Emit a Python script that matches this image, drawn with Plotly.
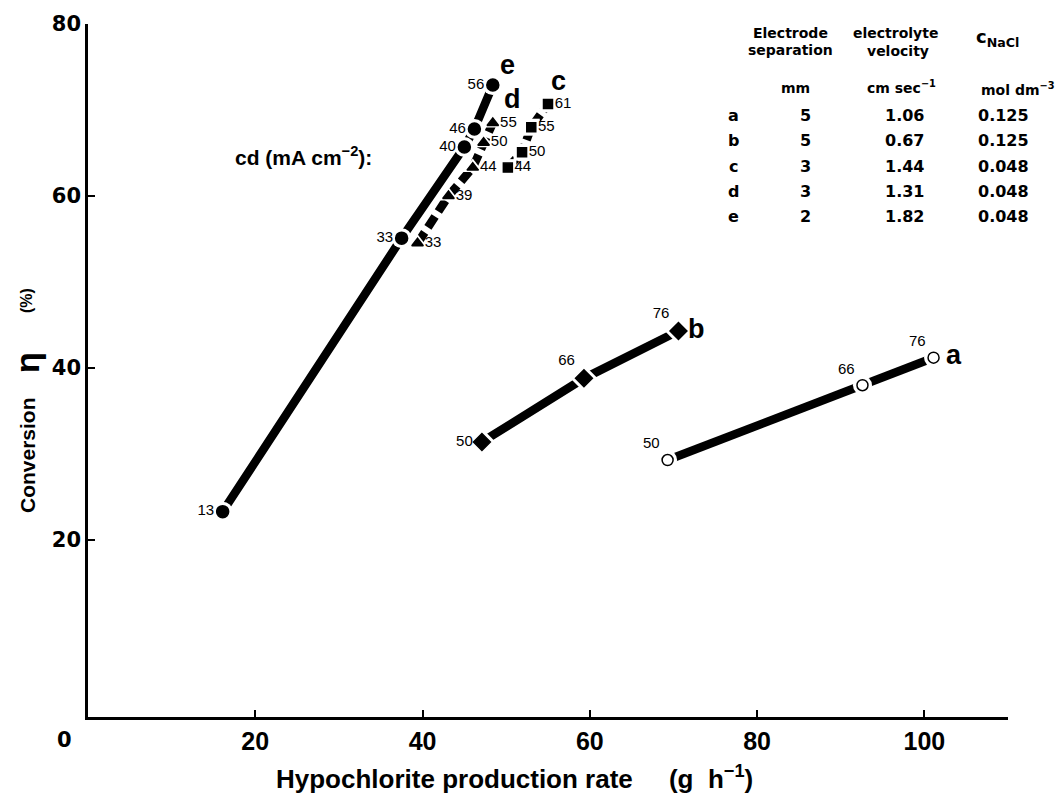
import plotly.graph_objects as go

# ---------------- data ----------------
a_x = [69.3, 92.6, 101.1]
a_y = [29.3, 38.0, 41.2]
a_cd = ["50", "66", "76"]

b_x = [47.1, 59.3, 70.6]
b_y = [31.4, 38.8, 44.3]
b_cd = ["50", "66", "76"]

c_x = [50.2, 51.9, 53.0, 55.0]
c_y = [63.3, 65.1, 68.0, 70.7]
c_cd = ["44", "50", "55", "61"]

d_x = [39.4, 43.1, 46.0, 47.3, 48.4]
d_y = [54.5, 60.0, 63.3, 66.2, 68.5]
d_cd = ["33", "39", "44", "50", "55"]

e_x = [16.1, 37.5, 45.0, 46.2, 48.4]
e_y = [23.3, 55.1, 65.7, 67.8, 72.9]
e_cd = ["13", "33", "40", "46", "56"]

table_ids = ["a", "b", "c", "d", "e"]
table_sep = ["5", "5", "3", "3", "2"]
table_vel = ["1.06", "0.67", "1.44", "1.31", "1.82"]
table_nacl = ["0.125", "0.125", "0.048", "0.048", "0.048"]

x_ticks = [20, 40, 60, 80, 100]
y_ticks = [20, 40, 60, 80]

# ---------------- layout geometry ----------------
W, H = 1062, 798
ML, MR, MT, MB = 88, 54, 24, 81
PW, PH = W - ML - MR, H - MT - MB


def px(x):
    return (x - ML) / PW


def py(y):
    return (H - MB - y) / PH


FONT = "Liberation Sans, Arial, sans-serif"
WIDE = "DejaVu Sans, Liberation Sans, sans-serif"

fig = go.Figure()

series = [
    # x, y, labels, symbol, size, fill, dash, label positions, letter, letter shift
    (a_x, a_y, a_cd, "circle", 11, "white", "solid", ["top left"] * 3, "a", (20, 3)),
    (b_x, b_y, b_cd, "diamond", 13, "black", "solid", ["middle left", "top left", "top left"], "b", (18, 2)),
    (c_x, c_y, c_cd, "square", 9, "black", "12px,5px", ["middle right"] * 4, "c", (10, 23)),
    (d_x, d_y, d_cd, "triangle-up", 10, "black", "13px,6px", ["middle right"] * 5, "d", (20, 24)),
    (e_x, e_y, e_cd, "circle", 12, "black", "solid", ["middle left"] * 5, "e", (15, 20)),
]

for xs, ys, labs, sym, size, fill, dash, tpos, letter, (sx, sy) in series:
    fig.add_trace(go.Scatter(x=xs, y=ys, mode="lines",
                             line=dict(color="black", width=8.5, dash=dash),
                             hoverinfo="skip", showlegend=False))
    # white halo around each marker (gap in the line)
    fig.add_trace(go.Scatter(x=xs, y=ys, mode="markers",
                             marker=dict(symbol=sym, size=size + 8, color="white",
                                         line=dict(width=0)),
                             hoverinfo="skip", showlegend=False))
    fig.add_trace(go.Scatter(x=xs, y=ys, mode="markers+text",
                             marker=dict(symbol=sym, size=size, color=fill,
                                         line=dict(color="black", width=1.5)),
                             text=labs, textposition=tpos,
                             textfont=dict(family=FONT, size=15, color="black"),
                             showlegend=False, name=letter))
    fig.add_annotation(x=xs[-1], y=ys[-1], text=letter, showarrow=False,
                       xshift=sx, yshift=sy, xanchor="center", yanchor="middle",
                       font=dict(family=FONT, size=27, color="black", weight="bold"))


def note(text, x, y, font, angle=0):
    fig.add_annotation(x=px(x), y=py(y), xref="paper", yref="paper", text=text,
                       showarrow=False, xanchor="center", yanchor="middle",
                       textangle=angle, font=font)


# cd label
note("cd (mA cm<sup>−2</sup>):", 303, 156,
     dict(family=FONT, size=21, color="black", weight="bold"))

# table
hdr_font = dict(family=WIDE, size=14, color="black", weight="bold")
val_font = dict(family=WIDE, size=16, color="black", weight="bold")
for txt, xx, yy in [("Electrode", 790, 33), ("separation", 790, 50),
                    ("electrolyte", 895, 33), ("velocity", 898, 51),
                    ("mm", 795, 88), ("cm sec<sup>−1</sup>", 901, 87),
                    ("mol dm<sup>−3</sup>", 1018, 89)]:
    note(txt, xx, yy, hdr_font)
note("c<sub>NaCl</sub>", 997, 38, dict(family=WIDE, size=18, color="black", weight="bold"))

col_x = [733, 805, 904, 1003]
row_y = [116, 141, 166, 191, 216]
for i in range(len(table_ids)):
    for xx, txt in zip(col_x, [table_ids[i], table_sep[i], table_vel[i], table_nacl[i]]):
        note(txt, xx, row_y[i], val_font)

# origin "0"
note("0", 64, 740, dict(family=WIDE, size=21, color="black", weight="bold"))

# y axis title pieces
for txt, yy, sz in [("Conversion", 455, 21), ("η", 362, 34), ("(%)", 300, 16)]:
    note(txt, 27, yy, dict(family=FONT, size=sz, color="black", weight="bold"), -90)

# x axis title
note("Hypochlorite production rate     (g  h<sup>−1</sup>)", 514, 777,
     dict(family=FONT, size=26, color="black", weight="bold"))

fig.update_layout(
    width=W, height=H,
    margin=dict(l=ML, r=MR, t=MT, b=MB),
    paper_bgcolor="white", plot_bgcolor="white",
    showlegend=False,
    xaxis=dict(range=[0, 110], tickvals=x_ticks, showgrid=False, zeroline=False,
               showline=True, linecolor="black", linewidth=2.5,
               ticks="inside", ticklen=7, tickwidth=2, tickcolor="black",
               tickfont=dict(family=FONT, size=25, color="black", weight="bold")),
    yaxis=dict(range=[-0.58, 80], tickvals=y_ticks, showgrid=False, zeroline=False,
               showline=True, linecolor="black", linewidth=2.5,
               ticks="inside", ticklen=7, tickwidth=2, tickcolor="black",
               tickfont=dict(family=WIDE, size=21, color="black", weight="bold")),
)

fig.write_html("out.html")
